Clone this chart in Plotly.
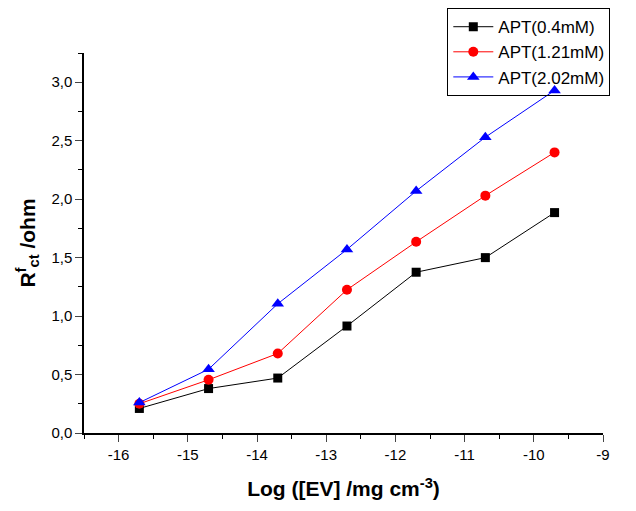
import plotly.graph_objects as go

x_vals = [-15.7, -14.7, -13.7, -12.7, -11.7, -10.7, -9.7]
apt_04 = [0.21, 0.38, 0.47, 0.915, 1.375, 1.50, 1.885]
apt_121 = [0.25, 0.455, 0.68, 1.225, 1.635, 2.03, 2.40]
apt_202 = [0.26, 0.545, 1.105, 1.57, 2.07, 2.53, 2.93]
names = ["APT(0.4mM)", "APT(1.21mM)", "APT(2.02mM)"]
x_ticks = [-16, -15, -14, -13, -12, -11, -10, -9]
x_ticktext = ["-16", "-15", "-14", "-13", "-12", "-11", "-10", "-9"]

FONT = "Arial, Liberation Sans, sans-serif"

fig = go.Figure()
fig.add_trace(go.Scatter(x=x_vals, y=apt_04, name=names[0], mode="lines+markers",
                         line=dict(color="black", width=1),
                         marker=dict(symbol="square", size=9, color="black")))
fig.add_trace(go.Scatter(x=x_vals, y=apt_121, name=names[1], mode="lines+markers",
                         line=dict(color="red", width=1),
                         marker=dict(symbol="circle", size=10, color="red")))
fig.add_trace(go.Scatter(x=x_vals, y=apt_202, name=names[2], mode="lines+markers",
                         line=dict(color="blue", width=1),
                         marker=dict(symbol="triangle-up", size=11, color="blue")))

fig.update_layout(
    width=620, height=495,
    margin=dict(l=76, r=25, t=45, b=70, autoexpand=False),
    paper_bgcolor="white", plot_bgcolor="white",
    separators=",.",
    font=dict(family=FONT, color="black", size=15),
    showlegend=True,
    legend=dict(x=0.70, y=1.118, xanchor="left", yanchor="top",
                bordercolor="black", borderwidth=1, bgcolor="rgba(255,255,255,0)",
                font=dict(size=17, family=FONT), tracegroupgap=0,
                itemwidth=40),
    xaxis=dict(range=[-16.5, -9], tickvals=x_ticks, ticktext=x_ticktext,
               ticks="outside", ticklen=7,
               tickwidth=1, showline=True, linecolor="black", linewidth=1.5,
               showgrid=False, zeroline=False,
               minor=dict(dtick=0.5, tick0=-16, ticks="outside", ticklen=4, tickcolor="black"),
               title=dict(text="<b>Log ([EV] /mg cm<sup>-3</sup>)</b>",
                          font=dict(size=21), standoff=20)),
    yaxis=dict(range=[0, 3.25], tick0=0, dtick=0.5, ticks="outside", ticklen=7,
               tickwidth=1, showline=True, linecolor="black", linewidth=1.5,
               showgrid=False, zeroline=False, tickformat=".1f",
               minor=dict(dtick=0.25, ticks="outside", ticklen=4, tickcolor="black"),
               title=dict(text="<b>R<sup>f</sup><sub>ct</sub> /ohm</b>",
                          font=dict(size=21), standoff=10)),
)

fig.write_html("out.html")
